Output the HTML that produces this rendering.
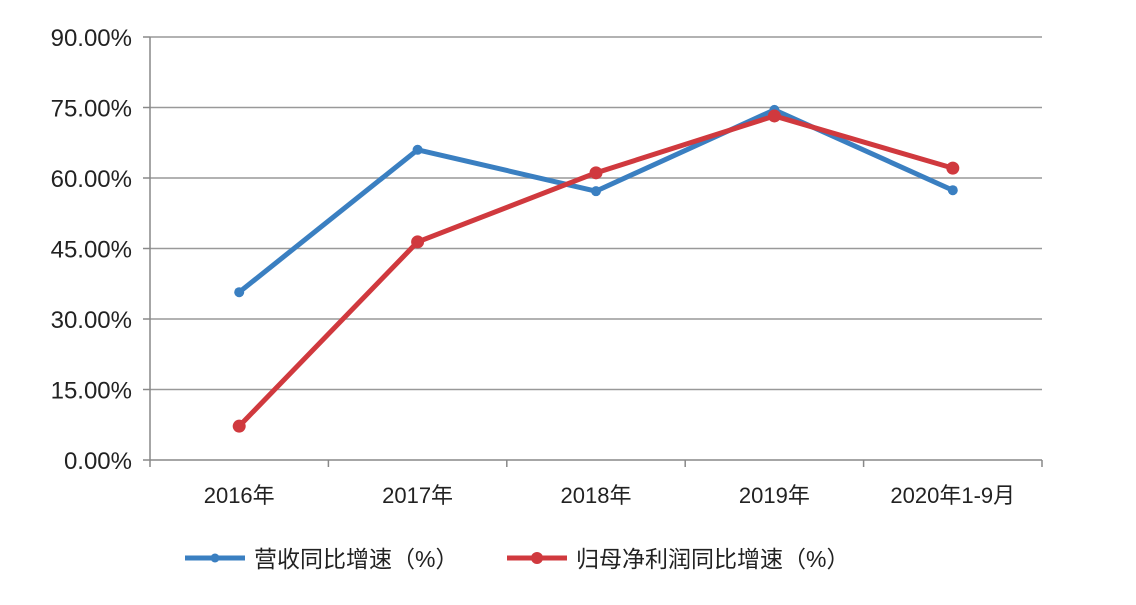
<!DOCTYPE html>
<html><head><meta charset="utf-8"><style>
body{margin:0;background:#fff;width:1136px;height:600px;overflow:hidden}
text{font-family:"Liberation Sans","Noto Sans CJK SC",sans-serif;fill:#222}
</style></head><body>
<svg id="chart" width="1136" height="600" xmlns="http://www.w3.org/2000/svg">
<g id="grid"></g>
<g id="axes"></g>
<g id="series"></g>
<g id="legend">
<line x1="185" y1="558" x2="245" y2="558" stroke="#3a7fc1" stroke-width="5"/>
<circle cx="215" cy="558" r="4.5" fill="#3a7fc1"/>
<text x="254" y="567" font-size="23">营收同比增速（%）</text>
<line x1="507" y1="558" x2="567" y2="558" stroke="#d0393e" stroke-width="5"/>
<circle cx="537" cy="558" r="6" fill="#d0393e"/>
<text x="576" y="567" font-size="23">归母净利润同比增速（%）</text>
</g>
</svg>
<script>
const categories=["2016年","2017年","2018年","2019年","2020年1-9月"];
const revenueGrowth=[35.7,66.0,57.2,74.5,57.4];
const profitGrowth=[7.2,46.4,61.1,73.2,62.1];
const yTicks=[0,15,30,45,60,75,90];
const NS="http://www.w3.org/2000/svg";
const L=150,R=1042,T=37,B=460;
const bw=(R-L)/categories.length;
function x(i){return L+bw*(i+0.5);}
function y(v){return B-(v/90)*(B-T);}
function mk(t,a,p){const e=document.createElementNS(NS,t);for(const k in a)e.setAttribute(k,a[k]);p.appendChild(e);return e;}
const grid=document.getElementById('grid'),axes=document.getElementById('axes'),ser=document.getElementById('series');
yTicks.forEach(v=>{
 if(v>0){const g=mk('line',{x1:L,x2:R,y1:y(v),y2:y(v),stroke:'#999','stroke-width':1.5},grid);
 
 }
 const tk=mk('line',{x1:L-7,x2:L,y1:y(v),y2:y(v),stroke:'#888','stroke-width':1.5},axes);
 
 
 const t=mk('text',{x:132,y:y(v)+9,'text-anchor':'end','font-size':24},axes);
 t.textContent=v.toFixed(2)+'%';
 
 
});
const ya=mk('line',{x1:L,x2:L,y1:T,y2:B,stroke:'#888','stroke-width':1.5},axes);


const xa=mk('line',{x1:L,x2:R,y1:B,y2:B,stroke:'#888','stroke-width':1.5},axes);


for(let i=0;i<=categories.length;i++){
 const tk=mk('line',{x1:L+bw*i,x2:L+bw*i,y1:B,y2:B+7,stroke:'#888','stroke-width':1.5},axes);
 
 
}
categories.forEach((c,i)=>{
 const t=mk('text',{x:x(i),y:503,'text-anchor':'middle','font-size':22},axes);
 t.textContent=c;
 
 
});
function draw(vals,color,r,name){
 const p=mk('polyline',{points:vals.map((v,i)=>x(i)+','+y(v)).join(' '),fill:'none',stroke:color,'stroke-width':5,'stroke-linejoin':'round'},ser);
 
 
 vals.forEach((v,i)=>{
  const c=mk('circle',{cx:x(i),cy:y(v),r:r,fill:color},ser);
  
  
 });
}
draw(revenueGrowth,'#3a7fc1',5,'revenue-growth');
draw(profitGrowth,'#d0393e',6.5,'profit-growth');
</script>
</body></html>
